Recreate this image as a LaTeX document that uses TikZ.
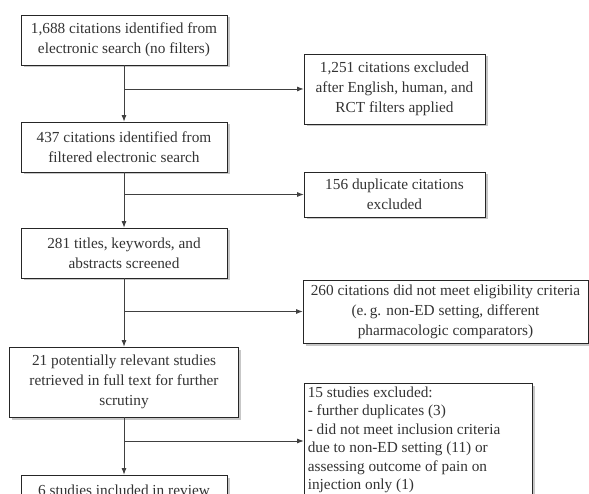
\documentclass[tikz,border=0pt]{standalone}
\usepackage{fontspec}
\setmainfont{Liberation Serif}
\usetikzlibrary{shadows,arrows.meta}
\begin{document}
\begin{tikzpicture}[x=1pt,y=-1pt,
 box/.style={draw=black!85, line width=0.8pt, fill=white, text=black!80,
   font=\fontsize{15.3}{20}\selectfont, align=center, inner sep=0pt,
   drop shadow={shadow xshift=2.5pt, shadow yshift=-2.5pt, fill=black!22, opacity=1}},
 lbl/.style={text=black!80, font=\fontsize{15.3}{18.4}\selectfont, align=left,
   inner xsep=4pt, inner ysep=0pt},
 arr/.style={draw=black!75, line width=0.8pt, -{Latex[length=6.5pt,width=5pt]}}]
\clip (0,0) rectangle (589,494);
\useasboundingbox (0,0) rectangle (589,494);
\node[box, minimum width=206pt, minimum height=50pt] (b1) at (124,40)
  {1,688 citations identified from\\electronic search (no filters)};
\node[box, minimum width=206pt, minimum height=50pt] (b2) at (124,147)
  {437 citations identified from\\filtered electronic search};
\node[box, minimum width=206pt, minimum height=50pt] (b3) at (124,253)
  {281 titles, keywords, and\\abstracts screened};
\node[box, minimum width=229pt, minimum height=70pt] (b4) at (124,382)
  {21 potentially relevant studies\\retrieved in full text for further\\scrutiny};
\node[box, minimum width=206pt, minimum height=50pt] (b5) at (124,500)
  {6 studies included in review\\\phantom{x}};
\node[box, minimum width=181pt, minimum height=70pt] (e1) at (394.5,89)
  {1,251 citations excluded\\after English, human, and\\RCT filters applied};
\node[box, minimum width=181pt, minimum height=45pt] (e2) at (394.5,194.5)
  {156 duplicate citations\\excluded};
\node[box, minimum width=285pt, minimum height=63pt] (e3) at (445.5,311.5)
  {260 citations did not meet eligibility criteria\\(e.\,g. non-ED setting, different\\pharmacologic comparators)};
\node[box, minimum width=228pt, minimum height=116pt] (e4) at (418,441) {};
\node[lbl, anchor=north west] (e4t) at ([yshift=-4pt]e4.north west)
  {15 studies excluded:\\- further duplicates (3)\\- did not meet inclusion criteria\\due to non-ED setting (11) or\\assessing outcome of pain on\\injection only (1)};
\draw[arr] (b1.south) -- (b2.north);
\draw[arr] (b2.south) -- (b3.north);
\draw[arr] (b3.south) -- (b4.north);
\draw[arr] (b4.south) -- (b5.north);
\draw[arr] (b1.south |- e1.west) -- (e1.west);
\draw[arr] (b2.south |- e2.west) -- (e2.west);
\draw[arr] (b3.south |- e3.west) -- (e3.west);
\draw[arr] (b4.south |- e4.west) -- (e4.west);
\end{tikzpicture}
\end{document}
